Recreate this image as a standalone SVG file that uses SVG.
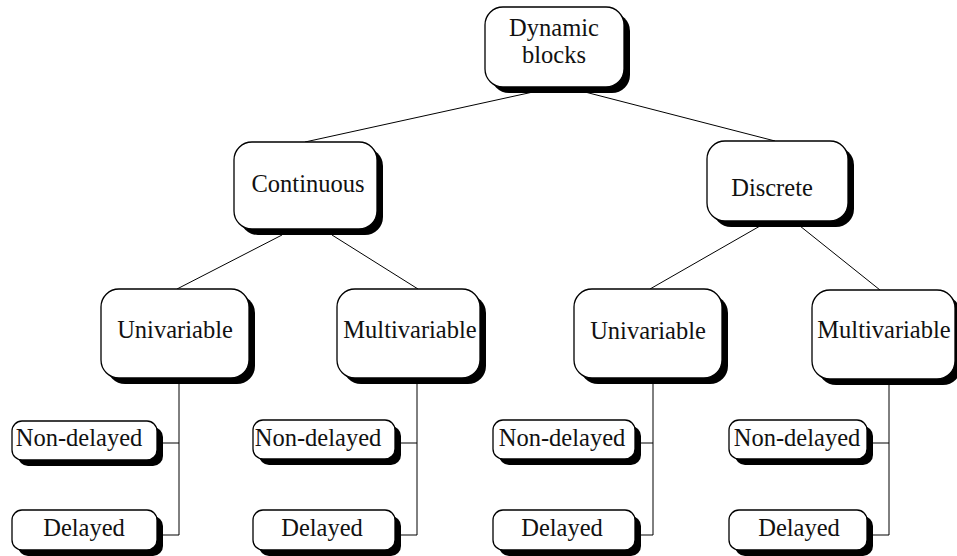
<svg xmlns="http://www.w3.org/2000/svg" width="957" height="556" viewBox="0 0 957 556">
<style>
  .box { fill: #ffffff; stroke: #000000; stroke-width: 1.3; }
  .shadow { fill: #000000; }
  .t { font-family: "Liberation Serif", "Times New Roman", serif; font-size: 24.5px; fill: #111111; text-anchor: middle; }
  .conn line, .conn polyline { stroke: #000000; stroke-width: 1; fill: none; }
</style>
<rect width="957" height="556" fill="#ffffff"/>
<g id="connectors" class="conn">
  <line x1="533" y1="92" x2="305" y2="142"/>
  <line x1="585" y1="92" x2="775" y2="141"/>
  <line x1="282" y1="235" x2="177" y2="289"/>
  <line x1="332" y1="235" x2="418" y2="289"/>
  <line x1="760" y1="226" x2="650" y2="289"/>
  <line x1="800" y1="226" x2="880" y2="290"/>
  <polyline points="179,384 179,535 163,535"/>
  <line x1="163" y1="443" x2="179" y2="443"/>
  <polyline points="417,384 417,535 401,535"/>
  <line x1="401" y1="443" x2="417" y2="443"/>
  <polyline points="653,384 653,535 641,535"/>
  <line x1="641" y1="443" x2="653" y2="443"/>
  <polyline points="889,385 889,535 873,535"/>
  <line x1="873" y1="443" x2="889" y2="443"/>
</g>
<g id="dynamic">
  <rect class="shadow" x="491" y="13" width="139" height="80" rx="18"/>
  <rect class="box" x="485" y="7" width="139" height="80" rx="18"/>
  <text class="t" x="554" y="36">Dynamic</text>
  <text class="t" x="554" y="63">blocks</text>
</g>
<g id="continuous">
  <rect class="shadow" x="240" y="148" width="143" height="87" rx="18"/>
  <rect class="box" x="234" y="142" width="143" height="87" rx="18"/>
  <text class="t" x="308" y="192">Continuous</text>
</g>
<g id="discrete">
  <rect class="shadow" x="713" y="147" width="141" height="80" rx="18"/>
  <rect class="box" x="707" y="141" width="141" height="80" rx="18"/>
  <text class="t" x="772" y="196">Discrete</text>
</g>
<g id="cont-univariable">
  <rect class="shadow" x="107" y="295" width="148" height="89" rx="18"/>
  <rect class="box" x="101" y="289" width="148" height="89" rx="18"/>
  <text class="t" x="175" y="338">Univariable</text>
</g>
<g id="cont-multivariable">
  <rect class="shadow" x="343" y="295" width="143" height="89" rx="18"/>
  <rect class="box" x="337" y="289" width="143" height="89" rx="18"/>
  <text class="t" x="410" y="338">Multivariable</text>
</g>
<g id="disc-univariable">
  <rect class="shadow" x="580" y="295" width="148" height="89" rx="18"/>
  <rect class="box" x="574" y="289" width="148" height="89" rx="18"/>
  <text class="t" x="648" y="339">Univariable</text>
</g>
<g id="disc-multivariable">
  <rect class="shadow" x="818" y="296" width="143" height="89" rx="18"/>
  <rect class="box" x="812" y="290" width="143" height="89" rx="18"/>
  <text class="t" x="884" y="338">Multivariable</text>
</g>
<g id="c-uni-nondelayed">
  <rect class="shadow" x="18" y="427" width="145" height="39" rx="10"/>
  <rect class="box" x="12" y="421" width="145" height="39" rx="10"/>
  <text class="t" x="79" y="446">Non-delayed</text>
</g>
<g id="c-uni-delayed">
  <rect class="shadow" x="18" y="516" width="145" height="40" rx="10"/>
  <rect class="box" x="12" y="510" width="145" height="40" rx="10"/>
  <text class="t" x="84" y="536">Delayed</text>
</g>
<g id="c-multi-nondelayed">
  <rect class="shadow" x="259" y="426" width="142" height="39" rx="10"/>
  <rect class="box" x="253" y="420" width="142" height="39" rx="10"/>
  <text class="t" x="318" y="446">Non-delayed</text>
</g>
<g id="c-multi-delayed">
  <rect class="shadow" x="259" y="516" width="142" height="40" rx="10"/>
  <rect class="box" x="253" y="510" width="142" height="40" rx="10"/>
  <text class="t" x="322" y="536">Delayed</text>
</g>
<g id="d-uni-nondelayed">
  <rect class="shadow" x="499" y="426" width="142" height="39" rx="10"/>
  <rect class="box" x="493" y="420" width="142" height="39" rx="10"/>
  <text class="t" x="562" y="446">Non-delayed</text>
</g>
<g id="d-uni-delayed">
  <rect class="shadow" x="499" y="516" width="142" height="40" rx="10"/>
  <rect class="box" x="493" y="510" width="142" height="40" rx="10"/>
  <text class="t" x="562" y="536">Delayed</text>
</g>
<g id="d-multi-nondelayed">
  <rect class="shadow" x="735" y="426" width="138" height="39" rx="10"/>
  <rect class="box" x="729" y="420" width="138" height="39" rx="10"/>
  <text class="t" x="797" y="446">Non-delayed</text>
</g>
<g id="d-multi-delayed">
  <rect class="shadow" x="735" y="516" width="138" height="40" rx="10"/>
  <rect class="box" x="729" y="510" width="138" height="40" rx="10"/>
  <text class="t" x="799" y="536">Delayed</text>
</g>
</svg>
